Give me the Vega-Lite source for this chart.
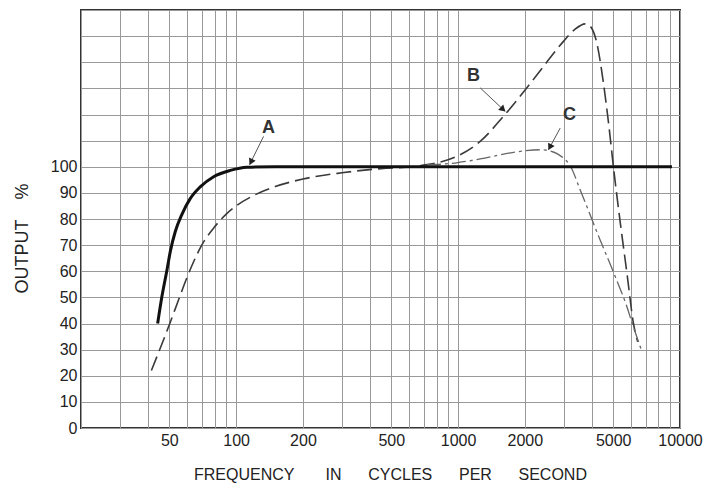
{
  "$schema": "https://vega.github.io/schema/vega-lite/v6.json",
  "autosize": "none",
  "padding": {"left": 81, "top": 10, "right": 34, "bottom": 55},
  "width": 599,
  "height": 418,
  "background": "white",
  "config": {
    "font": "Liberation Sans",
    "view": {"stroke": "#333", "strokeWidth": 2},
    "axis": {"gridColor": "#999", "gridWidth": 1, "gridOpacity": 1, "ticks": false, "domain": false, "labelColor": "#222", "titleColor": "#222", "titleFontWeight": "normal", "labelFont": "Liberation Sans", "titleFont": "Liberation Sans"}
  },
  "datasets": {
    "curves": [
      {"curve": "A", "f": 44.3, "v": 40},
      {"curve": "A", "f": 46.3, "v": 50.3},
      {"curve": "A", "f": 48.8, "v": 60.5},
      {"curve": "A", "f": 50.5, "v": 67.5},
      {"curve": "A", "f": 53.2, "v": 75.2},
      {"curve": "A", "f": 57, "v": 81.8},
      {"curve": "A", "f": 62.1, "v": 87.8},
      {"curve": "A", "f": 68.9, "v": 92.3},
      {"curve": "A", "f": 79.2, "v": 96.2},
      {"curve": "A", "f": 94.1, "v": 98.6},
      {"curve": "A", "f": 111.9, "v": 99.8},
      {"curve": "A", "f": 150, "v": 100},
      {"curve": "A", "f": 1000, "v": 100},
      {"curve": "A", "f": 9200, "v": 100},
      {"curve": "B", "f": 41.5, "v": 22},
      {"curve": "B", "f": 45.5, "v": 30.5},
      {"curve": "B", "f": 50.5, "v": 40.5},
      {"curve": "B", "f": 55, "v": 49},
      {"curve": "B", "f": 60, "v": 57.5},
      {"curve": "B", "f": 65, "v": 64.5},
      {"curve": "B", "f": 70, "v": 70},
      {"curve": "B", "f": 80, "v": 77},
      {"curve": "B", "f": 90, "v": 81.8},
      {"curve": "B", "f": 100, "v": 85},
      {"curve": "B", "f": 120, "v": 89},
      {"curve": "B", "f": 150, "v": 92.4},
      {"curve": "B", "f": 200, "v": 95.3},
      {"curve": "B", "f": 300, "v": 97.7},
      {"curve": "B", "f": 450, "v": 99.3},
      {"curve": "B", "f": 620, "v": 100},
      {"curve": "B", "f": 724, "v": 100.8},
      {"curve": "B", "f": 850, "v": 102},
      {"curve": "B", "f": 988, "v": 104},
      {"curve": "B", "f": 1258, "v": 109.7},
      {"curve": "B", "f": 1601, "v": 119.3},
      {"curve": "B", "f": 2042, "v": 130.2},
      {"curve": "B", "f": 2426, "v": 138.4},
      {"curve": "B", "f": 2985, "v": 148},
      {"curve": "B", "f": 3350, "v": 152.5},
      {"curve": "B", "f": 3738, "v": 154.7},
      {"curve": "B", "f": 3937, "v": 153.8},
      {"curve": "B", "f": 4218, "v": 147.4},
      {"curve": "B", "f": 4520, "v": 132},
      {"curve": "B", "f": 4785, "v": 115.4},
      {"curve": "B", "f": 5010, "v": 100.1},
      {"curve": "B", "f": 5374, "v": 79},
      {"curve": "B", "f": 5780, "v": 58.6},
      {"curve": "B", "f": 6170, "v": 40},
      {"curve": "B", "f": 6450, "v": 33},
      {"curve": "C", "f": 724, "v": 100.8},
      {"curve": "C", "f": 850, "v": 101},
      {"curve": "C", "f": 1000, "v": 101.6},
      {"curve": "C", "f": 1258, "v": 103},
      {"curve": "C", "f": 1777, "v": 105.5},
      {"curve": "C", "f": 2345, "v": 106.5},
      {"curve": "C", "f": 2555, "v": 106.2},
      {"curve": "C", "f": 2985, "v": 103.3},
      {"curve": "C", "f": 3200, "v": 100.4},
      {"curve": "C", "f": 3548, "v": 91.2},
      {"curve": "C", "f": 4366, "v": 72},
      {"curve": "C", "f": 5105, "v": 58},
      {"curve": "C", "f": 5760, "v": 46.5},
      {"curve": "C", "f": 6120, "v": 39.5},
      {"curve": "C", "f": 6670, "v": 30.3}
    ],
    "notes": [
      {"label": "A", "f": 140, "v": 114.8, "f1": 132.9, "v1": 111.6, "f2": 115, "v2": 100.8},
      {"label": "B", "f": 1174, "v": 134.6, "f1": 1258, "v1": 130.2, "f2": 1630, "v2": 121.2},
      {"label": "C", "f": 3177, "v": 119.9, "f1": 2885, "v1": 114.8, "f2": 2555, "v2": 106.5}
    ]
  },
  "encoding": {
    "x": {
      "field": "f", "type": "quantitative",
      "scale": {"type": "log", "domain": [20, 10000], "nice": false},
      "axis": {
        "values": [20,30,40,50,60,70,80,90,100,200,300,400,500,600,700,800,900,1000,2000,3000,4000,5000,6000,7000,8000,9000,10000],
        "format": "d",
        "labelExpr": "indexof([50,100,200,500,1000,2000,5000,10000], datum.value) >= 0 ? datum.label : ''",
        "labelOverlap": false, "labelFlush": false, "labelFontSize": 16, "labelPadding": 4,
        "title": "FREQUENCY\u00a0\u00a0\u00a0\u00a0\u00a0\u00a0 IN\u00a0\u00a0\u00a0\u00a0\u00a0 CYCLES\u00a0\u00a0\u00a0\u00a0\u00a0 PER\u00a0\u00a0\u00a0\u00a0\u00a0 SECOND",
        "titleFontSize": 16, "titleX": 309, "titleY": 46, "titleBaseline": "middle", "titleAlign": "center"
      }
    },
    "y": {
      "field": "v", "type": "quantitative",
      "scale": {"domain": [0, 160], "nice": false},
      "axis": {
        "values": [0,10,20,30,40,50,60,70,80,90,100,110,120,130,140,150,160],
        "labelExpr": "datum.value <= 100 ? datum.label : ''",
        "labelOverlap": false, "labelFlush": false, "labelFontSize": 16, "labelPadding": 4,
        "title": "OUTPUT\u00a0\u00a0\u00a0 %", "titleFontSize": 18, "titleX": -59, "titleY": 228, "titleBaseline": "middle", "titleAlign": "center", "titleAngle": -90
      }
    }
  },
  "layer": [
    {
      "data": {"name": "curves"},
      "transform": [{"filter": "datum.curve === 'B'"}],
      "mark": {"type": "line", "interpolate": "monotone", "stroke": "#3a3a3a", "strokeWidth": 1.6, "strokeDash": [15, 6]}
    },
    {
      "data": {"name": "curves"},
      "transform": [{"filter": "datum.curve === 'C'"}],
      "mark": {"type": "line", "interpolate": "monotone", "stroke": "#666", "strokeWidth": 1.3, "strokeDash": [14, 4, 3, 4]}
    },
    {
      "data": {"name": "curves"},
      "transform": [{"filter": "datum.curve === 'A'"}],
      "mark": {"type": "line", "interpolate": "monotone", "stroke": "#111", "strokeWidth": 3}
    },
    {
      "data": {"name": "notes"},
      "mark": {"type": "rule", "stroke": "#555", "strokeWidth": 1},
      "encoding": {"x": {"field": "f1", "type": "quantitative"}, "y": {"field": "v1", "type": "quantitative"}, "x2": {"field": "f2"}, "y2": {"field": "v2"}}
    },
    {
      "data": {"name": "notes"},
      "transform": [{"filter": "datum.label === 'A'"}],
      "mark": {"type": "point", "shape": "triangle", "filled": true, "color": "#222", "opacity": 1, "size": 55, "angle": 206, "xOffset": 1.8, "yOffset": -3.6},
      "encoding": {"x": {"field": "f2", "type": "quantitative"}, "y": {"field": "v2", "type": "quantitative"}}
    },
    {
      "data": {"name": "notes"},
      "transform": [{"filter": "datum.label === 'B'"}],
      "mark": {"type": "point", "shape": "triangle", "filled": true, "color": "#222", "opacity": 1, "size": 55, "angle": 133, "xOffset": -2.9, "yOffset": -2.7},
      "encoding": {"x": {"field": "f2", "type": "quantitative"}, "y": {"field": "v2", "type": "quantitative"}}
    },
    {
      "data": {"name": "notes"},
      "transform": [{"filter": "datum.label === 'C'"}],
      "mark": {"type": "point", "shape": "triangle", "filled": true, "color": "#222", "opacity": 1, "size": 55, "angle": 208, "xOffset": 1.9, "yOffset": -3.5},
      "encoding": {"x": {"field": "f2", "type": "quantitative"}, "y": {"field": "v2", "type": "quantitative"}}
    },
    {
      "data": {"name": "notes"},
      "mark": {"type": "text", "fontSize": 18, "fontWeight": "bold", "color": "#333", "align": "center", "baseline": "middle"},
      "encoding": {"text": {"field": "label"}}
    }
  ]
}
